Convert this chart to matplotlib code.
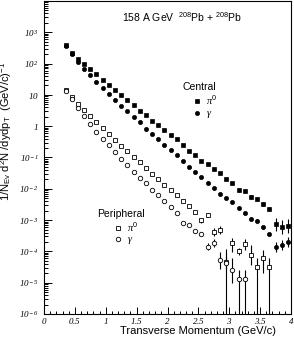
import numpy as np
import matplotlib
matplotlib.use('Agg')
from matplotlib import pyplot as plt
from matplotlib.ticker import FixedLocator, MultipleLocator, LogLocator, NullFormatter, FuncFormatter

plt.rcParams['font.family'] = 'Liberation Sans'
plt.rcParams['mathtext.fontset'] = 'custom'
plt.rcParams['mathtext.rm'] = 'Liberation Sans'
plt.rcParams['mathtext.it'] = 'Liberation Serif:italic'
# sf slot is used for the italic serif tick labels
plt.rcParams['mathtext.sf'] = 'Liberation Serif:italic'

# transverse momentum bin centres (GeV/c)
pt = [0.35, 0.45, 0.55, 0.65, 0.75, 0.85, 0.95, 1.05, 1.15, 1.25,
      1.35, 1.45, 1.55, 1.65, 1.75, 1.85, 1.95, 2.05, 2.15, 2.25,
      2.35, 2.45, 2.55, 2.65, 2.75, 2.85, 2.95, 3.05, 3.15, 3.25,
      3.35, 3.45, 3.55, 3.65, 3.75, 3.85, 3.95]

# log10 of the invariant yield
cen_pi0 = [2.58, 2.35, 2.16, 1.99, 1.82, 1.67, 1.49, 1.33, 1.17, 1.00,
           0.83, 0.68, 0.50, 0.36, 0.18, 0.05, -0.11, -0.28, -0.41, -0.60,
           -0.80, -0.92, -1.11, -1.22, -1.37, -1.51, -1.70, -1.80, -2.05, -2.08,
           -2.27, -2.33, -2.49, -2.65, -3.14, -3.22, -3.19]
cen_gam = [2.55, 2.31, 2.05, 1.84, 1.64, 1.42, 1.21, 1.03, 0.85, 0.65,
           0.49, 0.28, 0.12, -0.09, -0.25, -0.42, -0.60, -0.77, -0.93, -1.12,
           -1.29, -1.46, -1.62, -1.80, -1.99, -2.16, -2.28, -2.42, -2.60, -2.76,
           -2.95, -3.02, -3.23, -3.46, -3.87, -3.81, -3.70]
per_pi0 = [1.17, 0.94, 0.71, 0.51, 0.33, 0.12, -0.06, -0.25, -0.43, -0.62,
           -0.80, -0.98, -1.15, -1.33, -1.52, -1.70, -1.88, -2.05, -2.19, -2.39,
           -2.56, -2.75, -3.00, -2.84, -3.38, -3.31, -4.34, -3.74, -4.00, -3.77,
           -4.12, -4.50, -4.20, -4.50]
per_gam = [1.13, 0.88, 0.59, 0.33, 0.08, -0.19, -0.40, -0.61, -0.82, -1.05,
           -1.25, -1.45, -1.65, -1.83, -2.03, -2.21, -2.39, -2.58, -2.78, -3.09,
           -3.15, -3.36, -3.43, -3.85, -3.73, -4.28, -4.36, -4.60, -4.89, -4.89]

# error bar extents in decades (up / down); 10 = bar reaches the bottom
cen_pi0_up = [0]*28 + [0.06, 0.06, 0.06, 0.06, 0.06, 0.06, 0.21, 0.21, 0.21]
cen_pi0_dn = cen_pi0_up
cen_gam_up = [0]*30 + [0.04, 0.04, 0.04, 0.04, 0.16, 0.16, 0.16]
cen_gam_dn = cen_gam_up
per_pi0_up = [0]*20 + [0.03, 0.05, 0.08, 0.07, 0.14, 0.12, 0.43, 0.18, 0.12, 0.17,
                       0.31, 0.30, 0.24, 0.30]
per_pi0_dn = [0]*20 + [0.03, 0.05, 0.08, 0.07, 0.14, 0.12, 10, 0.28, 0.12, 0.17,
                       0.32, 10, 0.50, 10]
per_gam_up = [0]*21 + [0.04, 0.04, 0.12, 0.12, 0.27, 0.20, 0.40, 0.29, 0.30]
per_gam_dn = [0]*21 + [0.04, 0.04, 0.12, 0.12, 0.27, 0.20, 0.40, 10, 10]

fig = plt.figure(figsize=(2.94, 3.42), dpi=100)
ax = fig.add_axes([44/294, 28/342, 247/294, 313/342])


def draw(logv, up, dn, **kw):
    v = 10.0**np.array(logv)
    lo = v - v*10.0**(-np.array(dn, dtype=float))
    hi = v*10.0**np.array(up, dtype=float) - v
    c = ax.errorbar(pt[:len(v)], v, yerr=[lo, hi], ls='none', color='k',
                    ecolor='k', elinewidth=0.8, capsize=0, **kw)
    return c[0]


h1 = draw(cen_pi0, cen_pi0_up, cen_pi0_dn, marker='s', ms=3.0, mfc='k', mec='k', mew=0.5)
h2 = draw(cen_gam, cen_gam_up, cen_gam_dn, marker='o', ms=3.0, mfc='k', mec='k', mew=0.5)
h3 = draw(per_pi0, per_pi0_up, per_pi0_dn, marker='s', ms=3.4, mfc='white', mec='k', mew=0.6)
h4 = draw(per_gam, per_gam_up, per_gam_dn, marker='o', ms=3.2, mfc='white', mec='k', mew=0.6)

ax.set_yscale('log')
ax.set_xlim(0, 4)
ax.set_ylim(1e-6, 1e4)


def ylab(v, pos):
    e = int(round(np.log10(v)))
    if e == 0:
        return r'$\mathsf{1}$'
    if e == 1:
        return r'$\mathsf{10}$'
    return r'$\mathsf{10}^{\,\mathsf{%d}}$' % e


ax.yaxis.set_major_locator(FixedLocator([10.0**k for k in range(-6, 4)]))
ax.yaxis.set_major_formatter(FuncFormatter(ylab))
ax.yaxis.set_minor_locator(LogLocator(base=10, subs=np.arange(2, 10), numticks=50))
ax.yaxis.set_minor_formatter(NullFormatter())
ax.xaxis.set_major_locator(MultipleLocator(0.5))
ax.xaxis.set_minor_locator(MultipleLocator(0.1))
ax.xaxis.set_major_formatter(FuncFormatter(lambda v, p: r'$\mathsf{%g}$' % v))

ax.tick_params(which='both', direction='in', top=False, right=False, width=0.7, labelsize=6.5)
ax.tick_params(axis='y', which='major', length=6, pad=4)
ax.tick_params(axis='y', which='minor', length=3)
ax.tick_params(axis='x', which='major', length=5, pad=1.5)
ax.tick_params(axis='x', which='minor', length=2.5)
for s in ax.spines.values():
    s.set_linewidth(0.8)

ax.set_ylabel(r'1/N$_{\rm Ev}$ d$^2$N /dydp$_{\rm T}$  (GeV/c)$^{-1}$', fontsize=8)
ax.yaxis.set_label_coords(-0.12, 0.585)
ax.set_xlabel('Transverse Momentum (GeV/c)', fontsize=8)
ax.xaxis.set_label_coords(0.623, -0.037)

ax.text(0.559, 0.949, r'158 A GeV  $^{208}$Pb + $^{208}$Pb', transform=ax.transAxes,
        ha='center', va='center', fontsize=7.5)

ax.text(0.559, 0.725, 'Central', transform=ax.transAxes, ha='left', va='center', fontsize=7.5)
leg1 = ax.legend([h1, h2], [r'$\pi^0$', r'$\gamma$'], loc='upper left',
                 bbox_to_anchor=(0.598, 0.704), frameon=False, fontsize=7.5,
                 handlelength=1.0, handletextpad=0.4, borderpad=0, borderaxespad=0,
                 labelspacing=0.15, numpoints=1)
ax.add_artist(leg1)

ax.text(0.215, 0.319, 'Peripheral', transform=ax.transAxes, ha='left', va='center', fontsize=7.5)
ax.legend([h3, h4], [r'$\pi^0$', r'$\gamma$'], loc='upper left',
          bbox_to_anchor=(0.279, 0.298), frameon=False, fontsize=7.5,
          handlelength=1.0, handletextpad=0.4, borderpad=0, borderaxespad=0,
          labelspacing=0.06, numpoints=1)

fig.savefig('out.png', dpi=100)
